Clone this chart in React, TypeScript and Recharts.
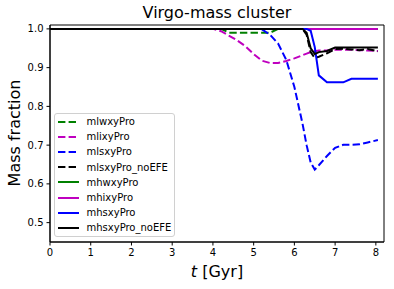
import React from 'react';
import { LineChart, Line, XAxis, YAxis, ReferenceArea } from 'recharts';

// time grid in Gyr
const times = [0, 4.0, 4.2, 4.4, 4.6, 4.8, 5.0, 5.2, 5.4, 5.6, 5.8, 6.0, 6.2, 6.3, 6.4, 6.5, 6.6, 6.8, 7.0, 7.2, 7.4, 7.6, 7.8, 8.05];

const mlwxyPro = [1, 1, 1, 0.99, 0.99, 0.99, 0.99, 0.99, 0.99, 1, 1, 1, 1, 1, 1, 1, 1, 1, 1, 1, 1, 1, 1, 1];
const mlixyPro = [1, 1, 0.994, 0.982, 0.97, 0.955, 0.935, 0.918, 0.912, 0.912, 0.917, 0.924, 0.932, 0.936, 0.94, 0.942, 0.944, 0.944, 0.946, 0.946, 0.946, 0.945, 0.944, 0.943];
const mlsxyPro = [1, 1, 1, 1, 1, 1, 1, 0.999, 0.985, 0.962, 0.92, 0.85, 0.755, 0.7, 0.655, 0.637, 0.648, 0.672, 0.693, 0.701, 0.701, 0.702, 0.707, 0.713];
const mlsxyPro_noEFE = [1, 1, 1, 1, 1, 1, 1, 1, 1, 1, 1, 1, 1, 0.985, 0.94, 0.925, 0.928, 0.937, 0.948, 0.949, 0.947, 0.945, 0.948, 0.942];
const mhwxyPro = [1, 1, 1, 1, 1, 1, 1, 1, 1, 1, 1, 1, 1, 1, 1, 1, 1, 1, 1, 1, 1, 1, 1, 1];
const mhixyPro = [1, 1, 1, 1, 1, 1, 1, 1, 1, 1, 1, 1, 1, 1, 1, 1, 1, 1, 1, 1, 1, 1, 1, 1];
const mhsxyPro = [1, 1, 1, 1, 1, 1, 1, 1, 1, 1, 1, 1, 1, 1, 0.995, 0.953, 0.88, 0.862, 0.862, 0.862, 0.871, 0.871, 0.871, 0.871];
const mhsxyPro_noEFE = [1, 1, 1, 1, 1, 1, 1, 1, 1, 1, 1, 1, 1, 0.99, 0.95, 0.935, 0.94, 0.943, 0.952, 0.952, 0.952, 0.952, 0.952, 0.952];

const xTicks = [0, 1, 2, 3, 4, 5, 6, 7, 8];
const yTicks = [0.5, 0.6, 0.7, 0.8, 0.9, 1.0];

const DASH = '7.4 3.2';
const FONT = '"DejaVu Sans", sans-serif';

const series = [
  { key: 'mlwxyPro', color: '#008000', dashed: true, values: mlwxyPro },
  { key: 'mlixyPro', color: '#bf00bf', dashed: true, values: mlixyPro },
  { key: 'mlsxyPro', color: '#0000ff', dashed: true, values: mlsxyPro },
  { key: 'mlsxyPro_noEFE', color: '#000000', dashed: true, values: mlsxyPro_noEFE },
  { key: 'mhwxyPro', color: '#008000', dashed: false, values: mhwxyPro },
  { key: 'mhixyPro', color: '#bf00bf', dashed: false, values: mhixyPro },
  { key: 'mhsxyPro', color: '#0000ff', dashed: false, values: mhsxyPro },
  { key: 'mhsxyPro_noEFE', color: '#000000', dashed: false, values: mhsxyPro_noEFE },
];

const data = times.map((t, i) => {
  const row: Record<string, number> = { t };
  series.forEach((s) => {
    row[s.key] = s.values[i];
  });
  return row;
});

const tickStyle = { fontSize: 10, fill: '#000', fontFamily: FONT };

export default function App() {
  return (
    <div style={{ position: 'absolute', left: 0, top: 0, width: 394, height: 289, fontFamily: FONT, background: '#fff' }}>
      <LineChart width={394} height={289} data={data} margin={{ top: 25, right: 10, left: 0, bottom: 0 }}>
        <XAxis
          dataKey="t"
          type="number"
          domain={[0, 8.2]}
          ticks={xTicks}
          allowDataOverflow
          tick={tickStyle}
          tickSize={3.5}
          tickMargin={3}
          height={47}
          stroke="#000"
        />
        <YAxis
          type="number"
          domain={[0.45, 1.01]}
          ticks={yTicks}
          allowDataOverflow
          tickFormatter={(v: number) => v.toFixed(1)}
          tick={tickStyle}
          tickSize={3.5}
          tickMargin={3}
          width={50}
          stroke="#000"
        />
        <ReferenceArea x1={0} x2={8.2} y1={0.45} y2={1.01} fill="none" stroke="#000" strokeWidth={1} />
        {series.map((s) => (
          <Line
            key={s.key}
            dataKey={s.key}
            stroke={s.color}
            strokeWidth={2}
            strokeDasharray={s.dashed ? DASH : undefined}
            dot={false}
            activeDot={false}
            isAnimationActive={false}
            type="linear"
          />
        ))}
      </LineChart>

      <div style={{ position: 'absolute', left: 0, width: 434, top: 3, textAlign: 'center', fontSize: 16, lineHeight: '20px', color: '#000' }}>
        Virgo-mass cluster
      </div>
      <div
        style={{
          position: 'absolute',
          left: 14,
          top: 133,
          transform: 'translate(-50%, -50%) rotate(-90deg)',
          fontSize: 16,
          whiteSpace: 'nowrap',
          color: '#000',
        }}
      >
        Mass fraction
      </div>
      <div style={{ position: 'absolute', left: 0, width: 434, top: 262, textAlign: 'center', fontSize: 16, lineHeight: '20px', color: '#000' }}>
        <span style={{ fontStyle: 'italic' }}>t</span> [Gyr]
      </div>

      <div
        style={{
          position: 'absolute',
          left: 54,
          top: 113,
          width: 121,
          height: 124,
          boxSizing: 'border-box',
          border: '1px solid #d0d0d0',
          borderRadius: 3,
          background: 'rgba(255,255,255,0.8)',
          paddingTop: 0,
        }}
      >
        {series.map((s) => (
          <div key={s.key} style={{ display: 'flex', alignItems: 'center', height: 15.2, fontSize: 10, color: '#000' }}>
            <svg width={21} height={6} style={{ marginLeft: 2.5, marginRight: 8 }}>
              <line x1={0} y1={3} x2={21} y2={3} stroke={s.color} strokeWidth={2} strokeDasharray={s.dashed ? DASH : undefined} />
            </svg>
            <span>{s.key}</span>
          </div>
        ))}
      </div>
    </div>
  );
}
